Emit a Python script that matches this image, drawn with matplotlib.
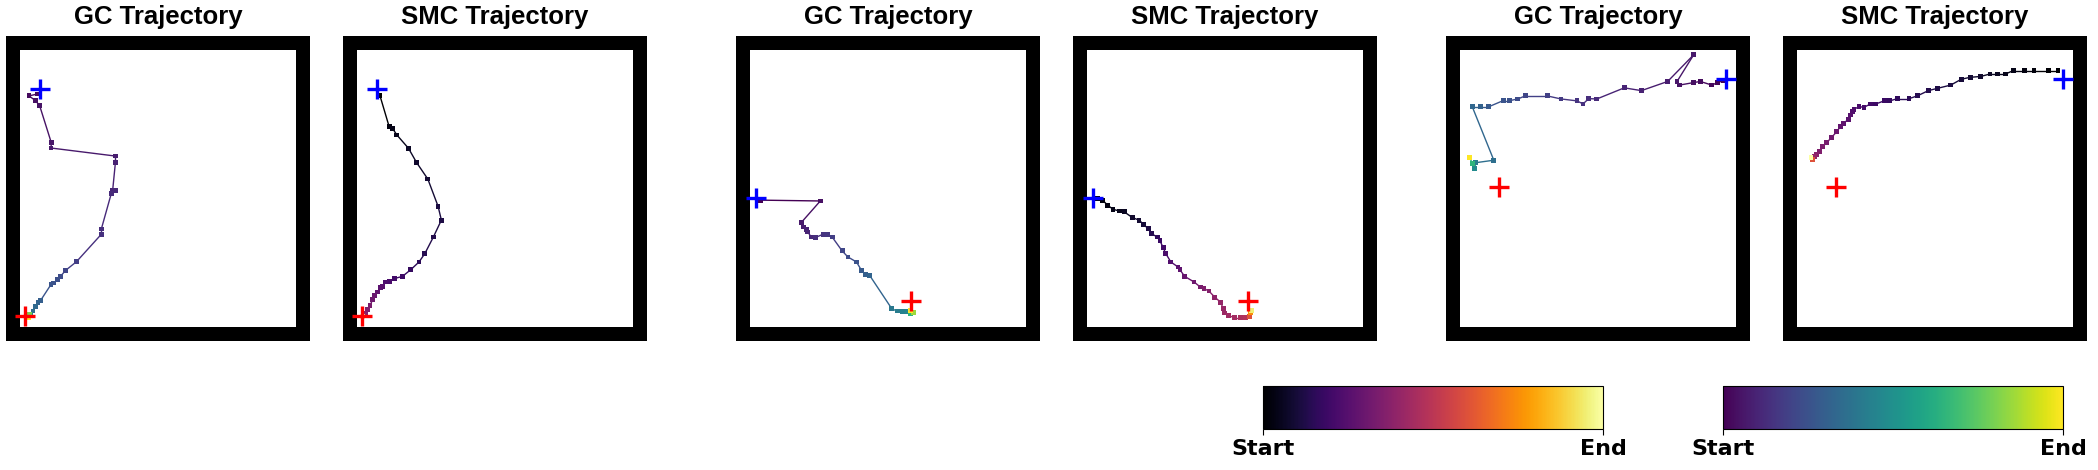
import numpy as np
import matplotlib
matplotlib.use('Agg')
import matplotlib.pyplot as plt
from matplotlib.collections import LineCollection
from matplotlib.patches import Rectangle

# Coordenadas en fraccion del area interior (0..1), t = progreso (color)
gc1_x = [0.065, 0.033, 0.057, 0.072, 0.114, 0.113, 0.346, 0.346, 0.336, 0.346, 0.331, 0.295, 0.295, 0.205,
         0.166, 0.147, 0.135, 0.123, 0.113, 0.075, 0.066, 0.057, 0.048, 0.039, 0.033, 0.036, 0.030]
gc1_y = [0.841, 0.834, 0.817, 0.798, 0.665, 0.646, 0.617, 0.595, 0.494, 0.494, 0.482, 0.354, 0.335, 0.236,
         0.205, 0.183, 0.171, 0.159, 0.154, 0.096, 0.089, 0.075, 0.058, 0.046, 0.039, 0.045, 0.036]
gc1_t = [0.02, 0.03, 0.04, 0.05, 0.06, 0.07, 0.08, 0.09, 0.10, 0.11, 0.12, 0.13, 0.14, 0.18,
         0.21, 0.23, 0.24, 0.25, 0.26, 0.30, 0.32, 0.34, 0.36, 0.45, 0.60, 0.80, 1.00]

smc1_x = [0.084, 0.117, 0.129, 0.145, 0.187, 0.216, 0.257, 0.294, 0.306, 0.277, 0.246, 0.225, 0.195, 0.165,
          0.135, 0.117, 0.105, 0.093, 0.087, 0.075, 0.063, 0.057, 0.048, 0.039, 0.030, 0.024, 0.022, 0.020]
smc1_y = [0.834, 0.723, 0.717, 0.693, 0.645, 0.594, 0.534, 0.436, 0.386, 0.325, 0.265, 0.235, 0.207, 0.183,
          0.175, 0.166, 0.163, 0.147, 0.142, 0.127, 0.114, 0.099, 0.078, 0.063, 0.051, 0.042, 0.040, 0.039]
smc1_t = [0.00, 0.03, 0.04, 0.05, 0.07, 0.08, 0.09, 0.11, 0.12, 0.13, 0.14, 0.15, 0.17, 0.19,
          0.20, 0.22, 0.23, 0.25, 0.26, 0.28, 0.30, 0.31, 0.33, 0.35, 0.37, 0.40, 0.70, 1.00]

gc2_x = [0.039, 0.255, 0.186, 0.195, 0.205, 0.210, 0.222, 0.237, 0.265, 0.280, 0.298, 0.334, 0.355, 0.386,
         0.404, 0.418, 0.434, 0.514, 0.533, 0.551, 0.569, 0.581, 0.593, 0.581]
gc2_y = [0.458, 0.455, 0.377, 0.361, 0.352, 0.343, 0.325, 0.323, 0.335, 0.335, 0.325, 0.275, 0.253, 0.235,
         0.205, 0.190, 0.186, 0.066, 0.058, 0.055, 0.055, 0.048, 0.054, 0.060]
gc2_t = [0.00, 0.04, 0.07, 0.08, 0.09, 0.10, 0.11, 0.13, 0.15, 0.16, 0.18, 0.21, 0.23, 0.25,
         0.28, 0.30, 0.32, 0.40, 0.42, 0.44, 0.46, 0.65, 0.85, 1.00]

smc2_x = [0.039, 0.057, 0.075, 0.095, 0.117, 0.135, 0.165, 0.189, 0.205, 0.222, 0.234, 0.255, 0.265, 0.276,
          0.286, 0.304, 0.330, 0.337, 0.354, 0.388, 0.410, 0.424, 0.442, 0.463, 0.484, 0.494, 0.499, 0.514,
          0.533, 0.557, 0.575, 0.589, 0.593, 0.595]
smc2_y = [0.464, 0.458, 0.440, 0.425, 0.419, 0.416, 0.395, 0.386, 0.371, 0.355, 0.337, 0.325, 0.311, 0.287,
          0.265, 0.235, 0.217, 0.207, 0.183, 0.163, 0.145, 0.139, 0.130, 0.108, 0.090, 0.066, 0.051, 0.042,
          0.034, 0.034, 0.034, 0.039, 0.051, 0.060]
smc2_t = [0.00, 0.02, 0.03, 0.04, 0.05, 0.06, 0.08, 0.09, 0.10, 0.12, 0.14, 0.16, 0.18, 0.20,
          0.22, 0.24, 0.26, 0.27, 0.29, 0.31, 0.33, 0.35, 0.36, 0.38, 0.40, 0.41, 0.42, 0.43,
          0.44, 0.46, 0.48, 0.60, 0.75, 0.95]

gc3_x = [0.954, 0.933, 0.912, 0.870, 0.846, 0.795, 0.786, 0.846, 0.752, 0.657, 0.595, 0.496, 0.466, 0.446,
         0.424, 0.366, 0.316, 0.237, 0.210, 0.181, 0.157, 0.105, 0.075, 0.045, 0.123, 0.057, 0.054, 0.045,
         0.036]
gc3_y = [0.889, 0.882, 0.873, 0.886, 0.882, 0.873, 0.886, 0.982, 0.886, 0.853, 0.863, 0.823, 0.824, 0.805,
         0.816, 0.823, 0.834, 0.834, 0.823, 0.817, 0.817, 0.795, 0.795, 0.795, 0.602, 0.593, 0.572, 0.590,
         0.612]
gc3_t = [0.00, 0.01, 0.02, 0.03, 0.04, 0.05, 0.06, 0.07, 0.08, 0.09, 0.10, 0.12, 0.13, 0.14,
         0.15, 0.17, 0.19, 0.21, 0.23, 0.25, 0.26, 0.28, 0.31, 0.33, 0.36, 0.42, 0.48, 0.65,
         1.00]

smc3_x = [0.945, 0.912, 0.858, 0.824, 0.783, 0.755, 0.725, 0.699, 0.665, 0.627, 0.595, 0.557, 0.508, 0.476,
          0.436, 0.406, 0.364, 0.336, 0.316, 0.286, 0.267, 0.243, 0.225, 0.207, 0.201, 0.193, 0.186, 0.169,
          0.157, 0.145, 0.125, 0.108, 0.093, 0.081, 0.072, 0.063, 0.057, 0.051]
smc3_y = [0.925, 0.925, 0.925, 0.925, 0.925, 0.913, 0.913, 0.913, 0.904, 0.901, 0.894, 0.873, 0.861, 0.853,
          0.834, 0.824, 0.824, 0.816, 0.816, 0.805, 0.805, 0.793, 0.795, 0.786, 0.777, 0.765, 0.749, 0.735,
          0.723, 0.705, 0.684, 0.665, 0.651, 0.633, 0.624, 0.614, 0.605, 0.612]
smc3_t = [0.00, 0.01, 0.02, 0.03, 0.04, 0.05, 0.06, 0.07, 0.08, 0.09, 0.10, 0.11, 0.12, 0.13,
          0.14, 0.15, 0.16, 0.17, 0.18, 0.19, 0.20, 0.21, 0.22, 0.23, 0.24, 0.25, 0.26, 0.27,
          0.28, 0.30, 0.31, 0.33, 0.34, 0.35, 0.37, 0.40, 0.60, 1.00]

# Inicio (azul) y objetivo (rojo) de cada episodio
starts = [(0.073, 0.858), (0.024, 0.464), (0.963, 0.894)]
goals = [(0.020, 0.039), (0.582, 0.094), (0.141, 0.504)]

titles = ['GC Trajectory', 'SMC Trajectory']
panel_left_px = [6, 343, 736, 1073, 1446, 1783]

W, H = 2098, 470
fig = plt.figure(figsize=(W / 100, H / 100), dpi=100)

panels = [
    (gc1_x, gc1_y, gc1_t, 'viridis', 0),
    (smc1_x, smc1_y, smc1_t, 'inferno', 0),
    (gc2_x, gc2_y, gc2_t, 'viridis', 1),
    (smc2_x, smc2_y, smc2_t, 'inferno', 1),
    (gc3_x, gc3_y, gc3_t, 'viridis', 2),
    (smc3_x, smc3_y, smc3_t, 'inferno', 2),
]

wall = 0.05
for i, (xs, ys, ts, cmap_name, ep) in enumerate(panels):
    ax = fig.add_axes([panel_left_px[i] / W, (H - 341) / H, 304 / W, 305 / H])
    ax.set_xlim(-wall, 1 + wall)
    ax.set_ylim(-wall, 1 + wall)
    ax.set_facecolor('black')
    ax.add_patch(Rectangle((0, 0), 1, 1, facecolor='white', edgecolor='none', zorder=0))
    for s in ax.spines.values():
        s.set_visible(False)
    ax.set_xticks([])
    ax.set_yticks([])

    cmap = plt.get_cmap(cmap_name)
    pts = np.column_stack([xs, ys])
    segs = np.stack([pts[:-1], pts[1:]], axis=1)
    lc = LineCollection(segs, colors=cmap(np.array(ts[:-1])), linewidths=1.0, zorder=2)
    ax.add_collection(lc)
    ax.scatter(xs, ys, c=ts, cmap=cmap_name, vmin=0, vmax=1, marker='s', s=12, zorder=3, linewidths=0)

    sx, sy = starts[ep]
    gx, gy = goals[ep]
    ax.plot(sx, sy, marker='+', color='blue', ms=15, mew=2.4, zorder=5, clip_on=False)
    ax.plot(gx, gy, marker='+', color='red', ms=15, mew=2.4, zorder=5, clip_on=False)

    ax.set_title(titles[i % 2], fontsize=18.5, fontweight='bold', family='Liberation Sans', pad=8.5)

# Barras de color
for left_px, cmap_name in [(1263, 'inferno'), (1723, 'viridis')]:
    cax = fig.add_axes([left_px / W, (H - 429) / H, 340 / W, 43 / H])
    sm = plt.cm.ScalarMappable(cmap=cmap_name, norm=plt.Normalize(vmin=0, vmax=1))
    cbar = fig.colorbar(sm, cax=cax, orientation='horizontal', ticks=[0, 1])
    cbar.ax.set_xticklabels(['Start', 'End'], fontsize=16, fontweight='bold', family='DejaVu Sans')
    cbar.outline.set_linewidth(0.8)
    cbar.ax.tick_params(length=4, width=0.8, pad=3)

fig.savefig('out.png', dpi=100)
